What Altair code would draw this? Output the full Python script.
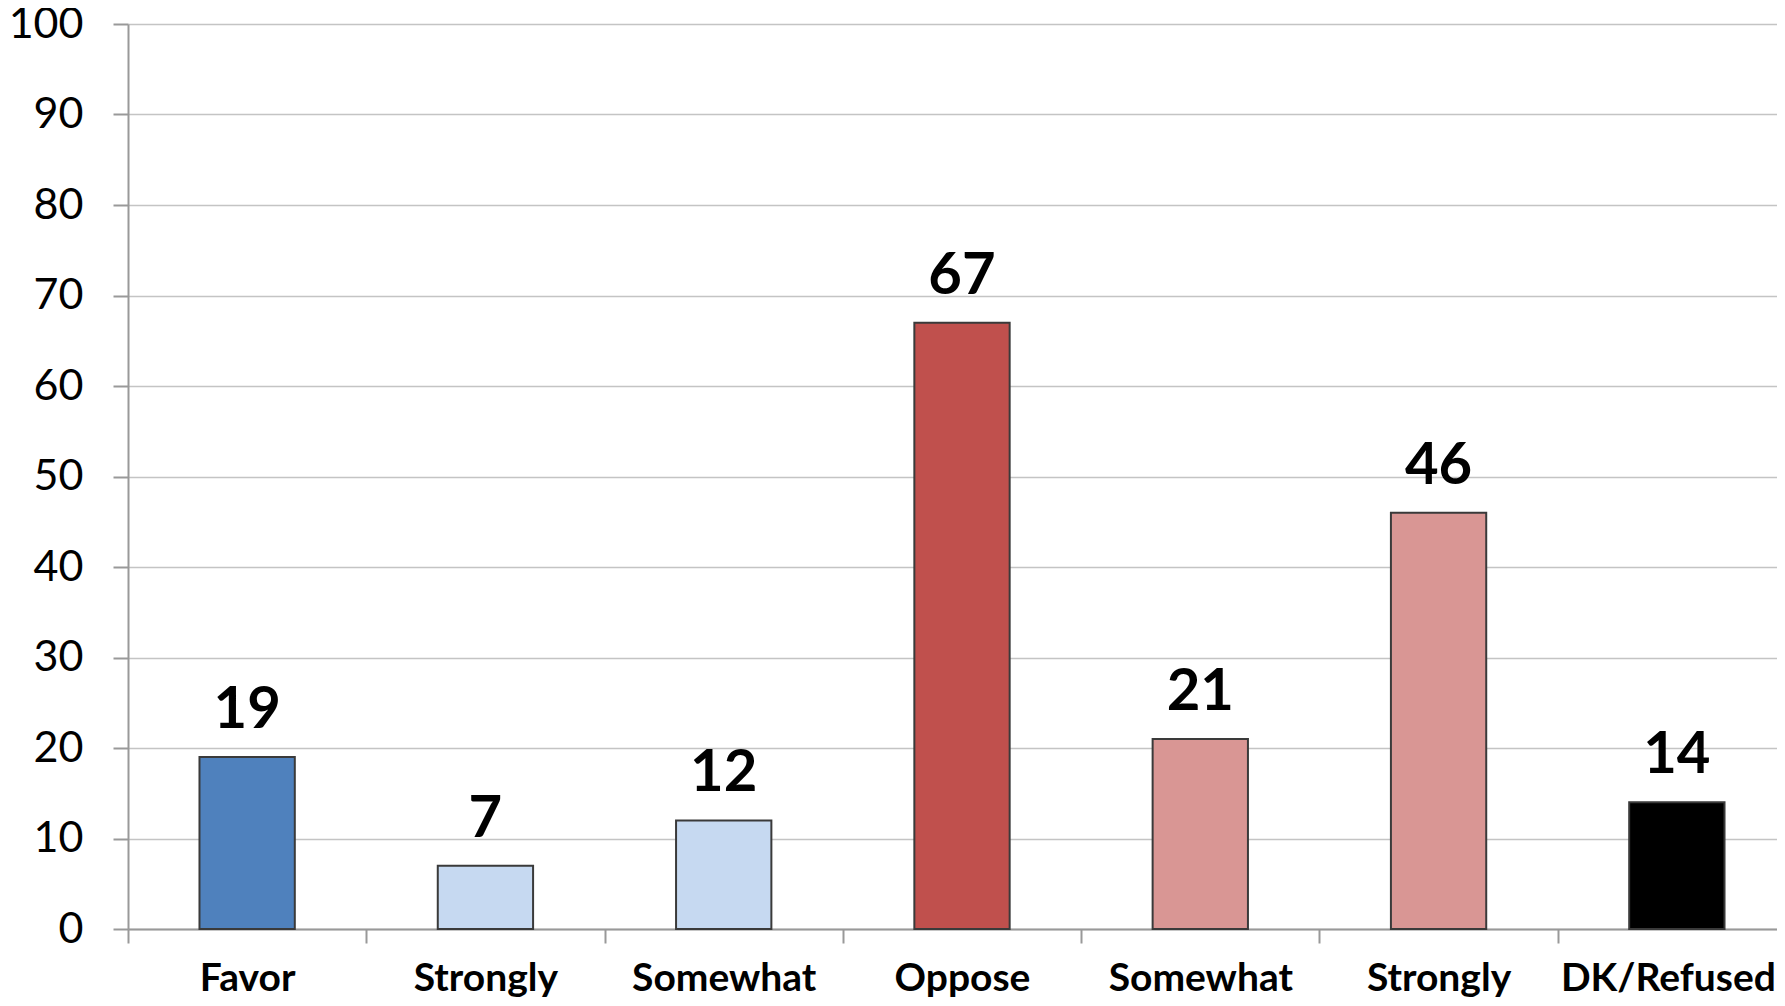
import altair as alt
import pandas as pd

categories = ["Favor", "Strongly", "Somewhat", "Oppose", "Somewhat", "Strongly", "DK/Refused"]
values = [19, 7, 12, 67, 21, 46, 14]
colors = ["#4F81BD", "#C6D9F1", "#C6D9F1", "#C0504D", "#D99694", "#D99694", "#000000"]
y_ticks = [0, 10, 20, 30, 40, 50, 60, 70, 80, 90, 100]

keys = [f"{i}|{c}" for i, c in enumerate(categories)]
df = pd.DataFrame({"key": keys, "label": categories, "value": values, "color": colors})

axis_gray = "#999999"
last_key = keys[-1]

x = alt.X(
    "key:N",
    sort=keys,
    scale=alt.Scale(range=[0, 1668], paddingInner=0, paddingOuter=0),
    axis=alt.Axis(
        title=None,
        labelExpr="split(datum.value, '|')[1]",
        labelAngle=0,
        labelFont="Lato",
        labelFontWeight="bold",
        labelFontSize=39,
        labelColor="black",
        labelBaseline="alphabetic",
        labelPadding=47,
        labelOffset={"condition": {"test": f"datum.value == '{last_key}'", "value": -9}, "value": 0},
        labelOverlap=False,
        labelBound=False,
        labelLimit=600,
        tickSize=14,
        tickBand="extent",
        tickColor=axis_gray,
        tickWidth=2,
        domainColor=axis_gray,
        domainWidth=2,
        grid=False,
    ),
)

y = alt.Y(
    "value:Q",
    scale=alt.Scale(domain=[0, 100], nice=False, zero=True),
    axis=alt.Axis(
        values=y_ticks,
        title=None,
        labelFont="Lato",
        labelFontSize=43,
        labelColor="black",
        labelPadding=30,
        labelFlush=False,
        labelOverlap=False,
        tickSize=15,
        tickColor=axis_gray,
        tickWidth=2,
        domainColor=axis_gray,
        domainWidth=2,
        gridColor="#c4c4c4",
        gridWidth=1.6,
    ),
)

base = alt.Chart(df)

bars = base.mark_bar(
    stroke="#3a3a3a", strokeWidth=2, width=alt.RelativeBandSize(0.4)
).encode(
    x=x,
    y=y,
    color=alt.Color("color:N", scale=None),
)

labels = base.mark_text(
    baseline="alphabetic",
    dy=-29,
    font="Lato",
    fontWeight="bold",
    fontSize=58,
    color="black",
).encode(x=x, y=y, text="value:Q")

chart = (
    alt.layer(bars, labels)
    .properties(
        width=1649,
        height=905,
        autosize=alt.AutoSizeParams(type="none"),
        padding={"left": 120, "top": 16, "right": 0, "bottom": 69},
    )
    .configure_view(stroke=None)
)

chart.save("out.html", embed_options={"renderer": "svg", "actions": False})
